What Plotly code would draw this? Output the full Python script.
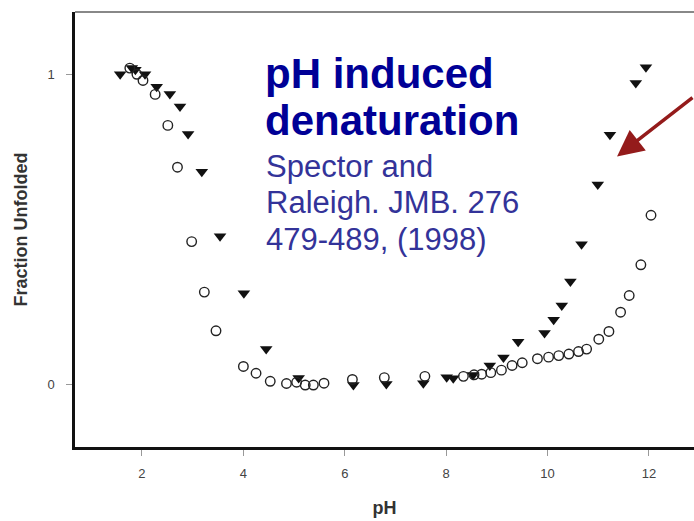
import plotly.graph_objects as go

# pH values and fraction unfolded — open circles series
circle_ph = [1.76, 1.90, 2.02, 2.26, 2.51, 2.70, 2.98, 3.23, 3.46, 4.00, 4.25, 4.53,
             4.85, 5.05, 5.22, 5.38, 5.59, 6.15, 6.78, 7.58, 8.34, 8.55, 8.70, 8.88,
             9.09, 9.30, 9.50, 9.80, 10.02, 10.22, 10.42, 10.61, 10.77, 11.01, 11.21,
             11.44, 11.61, 11.84, 12.04]
circle_frac = [1.02, 1.00, 0.98, 0.935, 0.835, 0.70, 0.46, 0.297, 0.172, 0.057, 0.035, 0.009,
               0.002, 0.006, -0.003, -0.003, 0.003, 0.015, 0.021, 0.025, 0.025, 0.030, 0.032, 0.037,
               0.045, 0.060, 0.069, 0.082, 0.087, 0.092, 0.097, 0.105, 0.113, 0.145, 0.170,
               0.232, 0.286, 0.385, 0.545]

# filled down-triangles series
tri_ph = [1.57, 1.80, 1.87, 2.06, 2.29, 2.55, 2.75, 2.91, 3.18, 3.54, 4.01, 4.45, 5.09,
          6.17, 6.82, 7.55, 8.01, 8.14, 8.53, 8.86, 9.13, 9.42, 9.94, 10.12, 10.28, 10.45,
          10.67, 10.99, 11.23, 11.74, 11.94]
tri_frac = [1.00, 1.02, 1.015, 1.00, 0.96, 0.936, 0.896, 0.807, 0.685, 0.477, 0.293, 0.113, 0.02,
            -0.003, 0.0, 0.003, 0.022, 0.019, 0.029, 0.06, 0.086, 0.137, 0.165, 0.208, 0.254, 0.331,
            0.451, 0.644, 0.805, 0.972, 1.023]

x_ticks = [2, 4, 6, 8, 10, 12]
y_ticks = [0, 1]

title_lines = ["pH induced", "denaturation"]
ref_lines = ["Spector and", "Raleigh. JMB. 276", "479-489, (1998)"]

FONT = "Liberation Sans, Arial, Helvetica, sans-serif"

fig = go.Figure()
fig.add_trace(go.Scatter(
    x=tri_ph, y=tri_frac, mode="markers",
    marker=dict(symbol="triangle-down", size=11, color="#111111",
                line=dict(width=0)),
    showlegend=False, cliponaxis=False))
fig.add_trace(go.Scatter(
    x=circle_ph, y=circle_frac, mode="markers",
    marker=dict(symbol="circle-open", size=9.5, color="#222222",
                line=dict(width=1.4, color="#222222")),
    showlegend=False, cliponaxis=False))

L, T, B = 75, 12, 74
W, H = 694, 521
plot_h = H - T - B
plot_w = W - L

def py(p):
    return (H - B - p) / plot_h

def px(p):
    return (p - L) / plot_w

annotations = []
for txt, yc in zip(title_lines, [73, 120]):
    annotations.append(dict(text="<b>%s</b>" % txt, xref="paper", yref="paper",
                            x=px(263), y=py(yc), xanchor="left", yanchor="middle",
                            showarrow=False,
                            font=dict(family=FONT, size=42, color="#000096")))
for txt, yc in zip(ref_lines, [166, 203, 239]):
    annotations.append(dict(text=txt, xref="paper", yref="paper",
                            x=px(264), y=py(yc), xanchor="left", yanchor="middle",
                            showarrow=False,
                            font=dict(family=FONT, size=31, color="#333399")))
annotations.append(dict(text="", x=11.37, y=0.735, xref="x", yref="y",
                        showarrow=True, ax=88, ay=-60, axref="pixel", ayref="pixel",
                        arrowhead=2, arrowsize=1.5, arrowwidth=3.5,
                        arrowcolor="#941B1B"))

fig.update_layout(
    width=W, height=H,
    margin=dict(l=L, r=0, t=T, b=B, pad=0),
    plot_bgcolor="white", paper_bgcolor="white",
    annotations=annotations,
    shapes=[dict(type="line", xref="paper", yref="paper", x0=0, x1=1, y0=1, y1=1,
                 line=dict(color="#888888", width=2))],
    xaxis=dict(range=[0.679, 12.888], tickvals=x_ticks, showgrid=False, zeroline=False,
               showline=True, linecolor="#111111", linewidth=2.5,
               ticks="outside", ticklen=6, tickwidth=1, tickcolor="#999999",
               tickfont=dict(family=FONT, size=13, color="#444444"),
               ticklabelstandoff=7,
               title=dict(text="<b>pH</b>", standoff=22,
                          font=dict(family=FONT, size=18, color="#333333"))),
    yaxis=dict(range=[-0.203, 1.201], tickvals=y_ticks, showgrid=False, zeroline=False,
               showline=True, linecolor="#111111", linewidth=2.5,
               ticks="outside", ticklen=6, tickwidth=1, tickcolor="#999999",
               tickfont=dict(family=FONT, size=13, color="#444444"),
               ticklabelstandoff=9,
               title=dict(text="<b>Fraction Unfolded</b>", standoff=16,
                          font=dict(family=FONT, size=18, color="#333333"))),
)

fig.write_html("out.html")
